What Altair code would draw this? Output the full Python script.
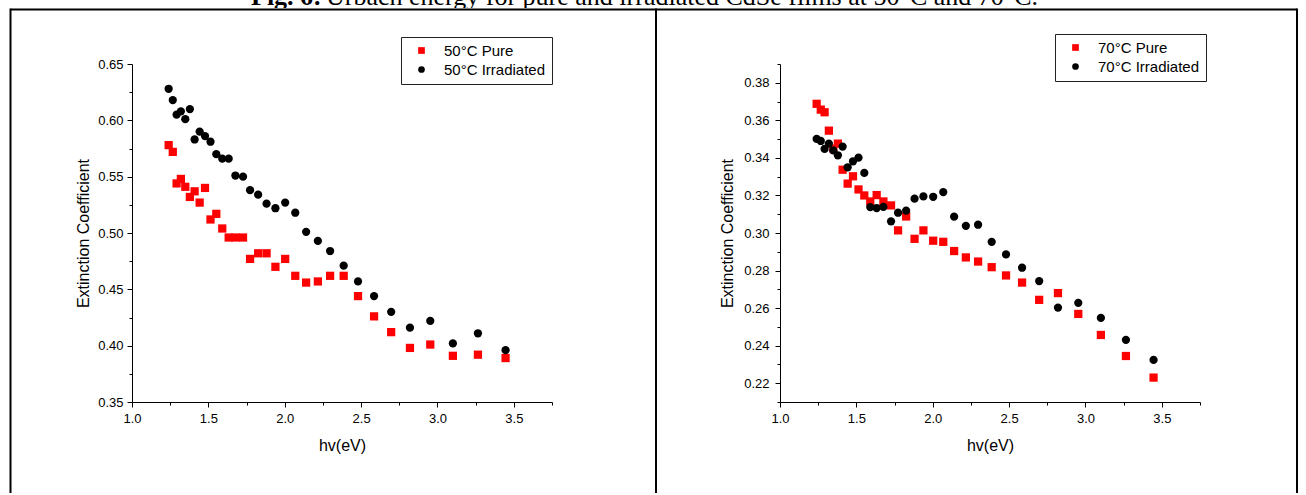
import altair as alt
import pandas as pd

# ---------------- data ----------------
hv = [1.240, 1.267, 1.292, 1.320, 1.349, 1.379, 1.410, 1.443, 1.478, 1.514, 1.552,
      1.591, 1.633, 1.677, 1.727, 1.773, 1.826, 1.881, 1.939, 2.003, 2.069, 2.140,
      2.217, 2.297, 2.386, 2.480, 2.585, 2.697, 2.820, 2.953, 3.101, 3.265, 3.446]

pure50 = [0.578, 0.572, 0.544, 0.548, 0.541, 0.532, 0.537, 0.527, 0.540, 0.512, 0.517,
          0.504, 0.496, 0.496, 0.496, 0.477, 0.482, 0.482, 0.470, 0.477, 0.462, 0.456,
          0.457, 0.462, 0.462, 0.444, 0.426, 0.412, 0.398, 0.401, 0.391, 0.392, 0.389]
irr50 = [0.628, 0.618, 0.605, 0.608, 0.601, 0.610, 0.583, 0.590, 0.586, 0.581, 0.570,
         0.566, 0.566, 0.551, 0.550, 0.538, 0.534, 0.526, 0.522, 0.527, 0.518, 0.501,
         0.493, 0.484, 0.471, 0.457, 0.444, 0.430, 0.416, 0.422, 0.402, 0.411, 0.396]

pure70 = [0.3688, 0.3657, 0.3643, 0.3545, 0.3450, 0.3476, 0.3337, 0.3263, 0.3302, 0.3232,
          0.3200, 0.3168, 0.3202, 0.3168, 0.3147, 0.3014, 0.3088, 0.2969, 0.3014, 0.2959,
          0.2953, 0.2904, 0.2870, 0.2848, 0.2818, 0.2774, 0.2736, 0.2644, 0.2680, 0.2569,
          0.2457, 0.2345, 0.2230]
irr70 = [0.3501, 0.3490, 0.3448, 0.3476, 0.3440, 0.3414, 0.3460, 0.3350, 0.3382, 0.3401,
         0.3320, 0.3138, 0.3133, 0.3139, 0.3062, 0.3108, 0.3119, 0.3183, 0.3195, 0.3193,
         0.3218, 0.3087, 0.3038, 0.3044, 0.2953, 0.2886, 0.2815, 0.2744, 0.2603, 0.2628,
         0.2548, 0.2431, 0.2324]

labels50 = ["50°C Pure", "50°C Irradiated"]
labels70 = ["70°C Pure", "70°C Irradiated"]

x_ticks = [1.0, 1.25, 1.5, 1.75, 2.0, 2.25, 2.5, 2.75, 3.0, 3.25, 3.5, 3.75]
y50_ticks = [0.35, 0.375, 0.40, 0.425, 0.45, 0.475, 0.50, 0.525, 0.55, 0.575, 0.60, 0.625, 0.65]
y70_ticks = [0.21, 0.22, 0.23, 0.24, 0.25, 0.26, 0.27, 0.28, 0.29, 0.30,
             0.31, 0.32, 0.33, 0.34, 0.35, 0.36, 0.37, 0.38, 0.39]

caption_bold = "Fig. 6:"
caption_rest = "Urbach energy for pure and irradiated CdSe films at 50°C and 70°C."

x_title = "hv(eV)"
y_title = "Extinction Coefficient"

FONT = "Liberation Sans"
W, H = 420, 338


def axis(values, test, fmt, label_pad, title_pad):
    return alt.Axis(
        values=values,
        labelExpr=f"({test}) ? format(datum.value, '{fmt}') : ''",
        tickSize={"condition": {"test": test, "value": 5}, "value": 3},
        grid=False,
        domainColor="black",
        tickColor="black",
        labelColor="black",
        titleColor="black",
        labelFont=FONT,
        labelFontSize=13,
        titleFont=FONT,
        titleFontSize=16,
        titleFontWeight="normal",
        labelPadding=label_pad,
        titlePadding=title_pad,
        labelOverlap=False,
        labelFlush=False,
    )


def rule(x1, x2, y1, y2):
    dummy = pd.DataFrame({"d": [0]})
    return alt.Chart(dummy).mark_rule(color="black", strokeWidth=2).encode(
        x=alt.value(x1), x2=alt.value(x2), y=alt.value(y1), y2=alt.value(y2)
    )


def panel(pure, irr, labels, ydom, yticks, ytest, ylabpad, ytitlepad, legx, legy, rules):
    n = len(hv)
    df = pd.DataFrame({
        "hv": hv + hv,
        "k": pure + irr,
        "series": [labels[0]] * n + [labels[1]] * n,
    })
    leg = alt.Legend(
        orient="none", legendX=legx, legendY=legy, title=None,
        strokeColor="#222222", fillColor="white", padding=6,
        symbolOffset=7, labelOffset=15, rowPadding=3,
        labelFont=FONT, labelFontSize=15, labelColor="black",
        symbolSize=45, symbolStrokeWidth=0,
    )
    pts = alt.Chart(df).mark_point(filled=True, size=68, opacity=1, strokeWidth=0).encode(
        x=alt.X("hv:Q", title=x_title,
                scale=alt.Scale(domain=[1.0, 3.75], nice=False, zero=False),
                axis=axis(x_ticks, "round(datum.value*100) % 50 == 0", ".1f", 5, 12)),
        y=alt.Y("k:Q", title=y_title,
                scale=alt.Scale(domain=ydom, nice=False, zero=False),
                axis=axis(yticks, ytest, ".2f", ylabpad, ytitlepad)),
        color=alt.Color("series:N", scale=alt.Scale(domain=labels, range=["#ff0000", "#000000"]), legend=leg),
        shape=alt.Shape("series:N", scale=alt.Scale(domain=labels, range=["square", "circle"]), legend=leg),
    )
    return alt.layer(pts, *rules).properties(width=W, height=H)


# table borders (pixel decorations, relative to each panel's plot area)
left_rules = [
    rule(-121.5, 524, -54.5, -54.5),   # top line
    rule(-121.5, -121.5, -55.5, 429),  # left border
]
right_rules = [
    rule(-124, 517, -54.5, -54.5),     # top line
    rule(-124, -124, -55.5, 429),      # divider
    rule(517, 517, -55.5, 429),        # right border
]

left = panel(pure50, irr50, labels50, [0.35, 0.65], y50_ticks,
             "round(datum.value*1000) % 50 == 0", 4, 6, 269, -27, left_rules)
right = panel(pure70, irr70, labels70, [0.21, 0.39], y70_ticks,
              "round(datum.value*100) % 2 == 0", 6, 8, 275, -30, right_rules)

cap_df1 = pd.DataFrame({"t": [caption_bold]})
cap_df2 = pd.DataFrame({"t": [caption_rest]})
cap1 = alt.Chart(cap_df1).mark_text(
    clip=True, align="left", baseline="alphabetic", font="Liberation Serif",
    fontSize=26, fontWeight="bold", color="black"
).encode(x=alt.value(119), y=alt.value(5), text="t:N")
cap2 = alt.Chart(cap_df2).mark_text(
    clip=True, align="left", baseline="alphabetic", font="Liberation Serif",
    fontSize=26, color="black"
).encode(x=alt.value(194), y=alt.value(5), text="t:N")
title_view = alt.layer(cap1, cap2).properties(width=1000, height=8)

row = alt.hconcat(left, right, spacing=228, bounds="flush").resolve_scale(
    color="independent", shape="independent"
).resolve_legend(color="independent", shape="independent")

chart = alt.vconcat(
    title_view,
    row,
    spacing=56,
    bounds="flush",
).properties(
    padding={"left": 9, "top": 0, "right": 0, "bottom": 0},
    background="white",
).configure_view(strokeWidth=0)

chart.save("out.html", embed_options={"renderer": "svg", "actions": False})
